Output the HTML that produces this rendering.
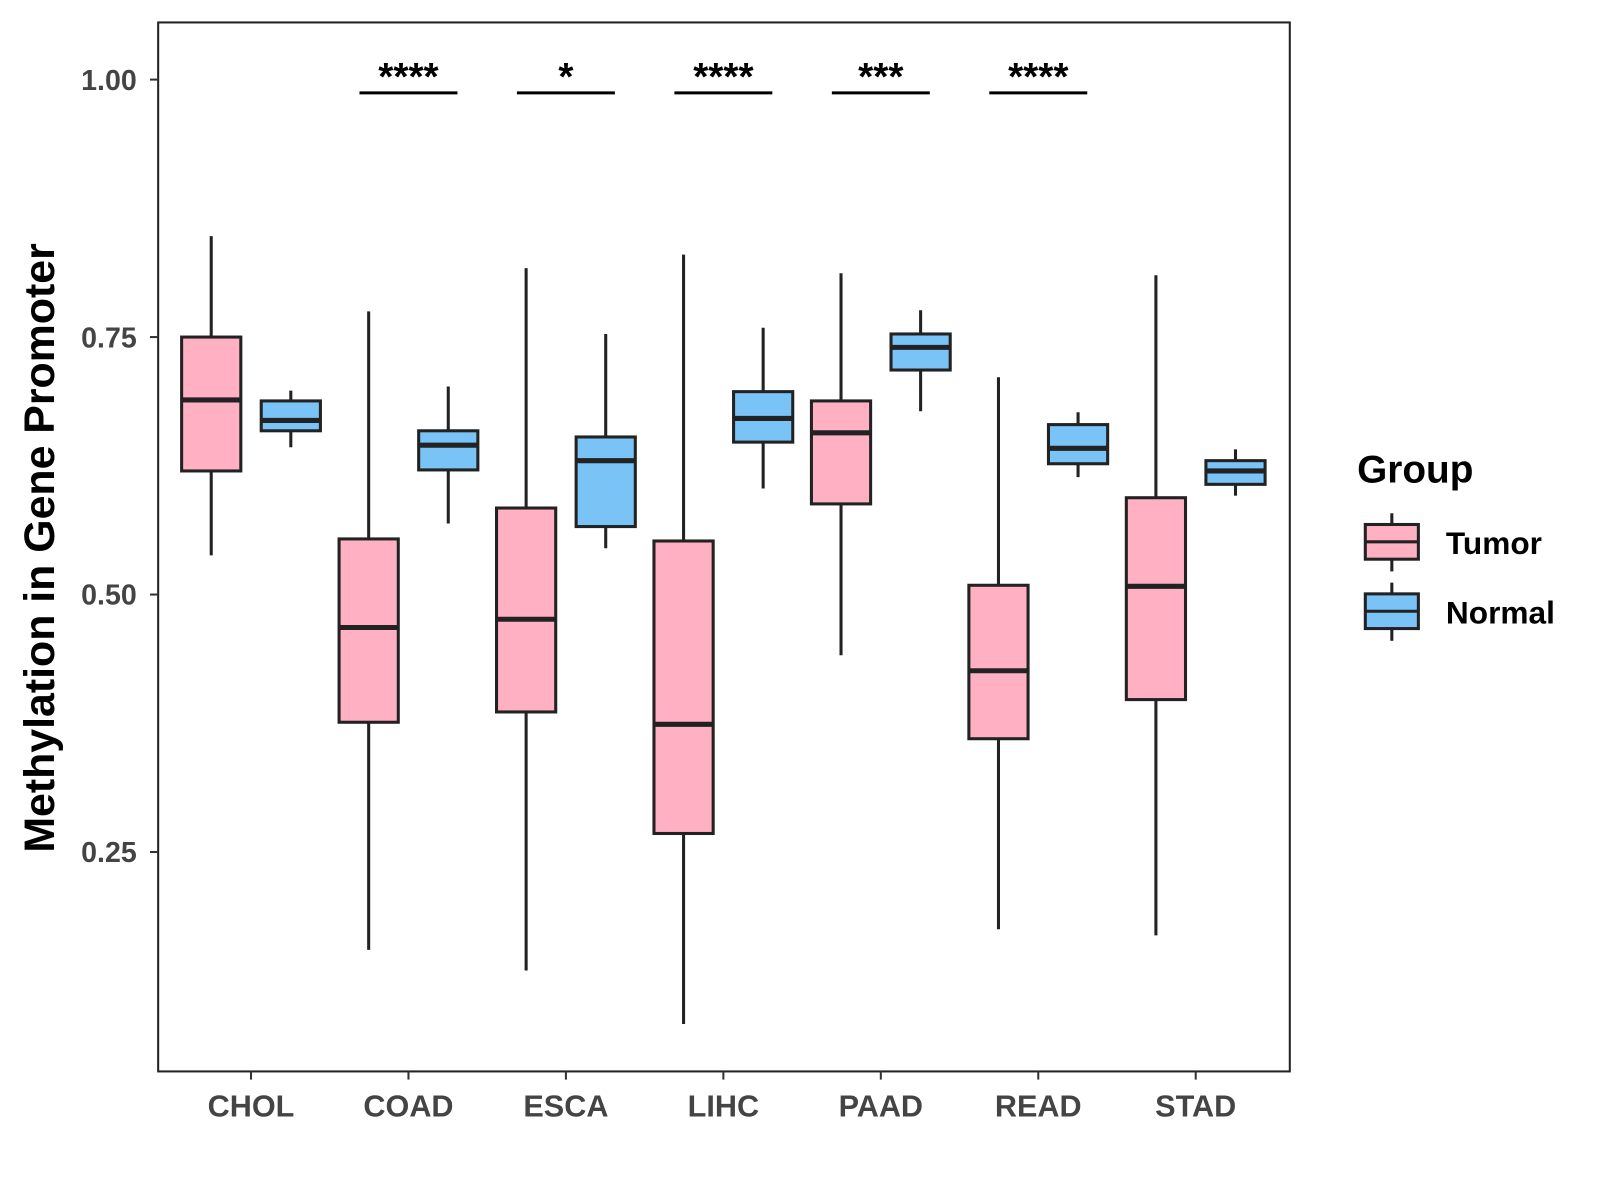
<!DOCTYPE html>
<html><head><meta charset="utf-8"><style>
html,body{margin:0;padding:0;background:#fff}
svg{display:block}
text{font-family:"Liberation Sans",Arial,sans-serif;font-weight:bold}
</style></head><body>
<svg id="chart" width="1600" height="1200" viewBox="0 0 1568 1176" xmlns="http://www.w3.org/2000/svg">
<rect x="155" y="22" width="1109" height="1028" fill="#fff" stroke="#222" stroke-width="2"/>
<g id="marks"></g>
<text transform="translate(53,537) rotate(-90)" text-anchor="middle" font-size="42" fill="#000">Methylation in Gene Promoter</text>
<g>
<text x="1330" y="473" font-size="38" fill="#000">Group</text>
<g>
<line x1="1364" y1="503" x2="1364" y2="560" stroke="#222" stroke-width="3"/>
<rect x="1338" y="514" width="52" height="34" fill="#FFB1C3" stroke="#222" stroke-width="3"/>
<line x1="1338" y1="531" x2="1390" y2="531" stroke="#222" stroke-width="3"/>
<text x="1417" y="543" font-size="31" fill="#000">Tumor</text></g>
<g>
<line x1="1364" y1="571" x2="1364" y2="628" stroke="#222" stroke-width="3"/>
<rect x="1338" y="582" width="52" height="34" fill="#7AC3F7" stroke="#222" stroke-width="3"/>
<line x1="1338" y1="599" x2="1390" y2="599" stroke="#222" stroke-width="3"/>
<text x="1417" y="611" font-size="31" fill="#000">Normal</text></g>
</g>
</svg>
<script>
const categories=["CHOL","COAD","ESCA","LIHC","PAAD","READ","STAD"];
// [whiskerLow, q1, median, q3, whiskerHigh]
const tumorStats=[[0.538,0.620,0.689,0.750,0.848],[0.155,0.376,0.468,0.554,0.775],[0.135,0.386,0.476,0.584,0.817],[0.083,0.268,0.374,0.552,0.830],[0.441,0.588,0.657,0.688,0.812],[0.175,0.360,0.426,0.509,0.711],[0.169,0.398,0.508,0.594,0.810]];
const normalStats=[[0.643,0.659,0.669,0.688,0.698],[0.569,0.621,0.645,0.659,0.702],[0.545,0.566,0.630,0.653,0.753],[0.603,0.648,0.671,0.697,0.759],[0.678,0.718,0.740,0.753,0.776],[0.614,0.627,0.642,0.665,0.677],[0.596,0.607,0.620,0.630,0.641]];
const yTicks=[0.25,0.50,0.75,1.00];
const yTickLabels=["0.25","0.50","0.75","1.00"];
const sigLabels=["","****","*","****","***","****",""];
const NS="http://www.w3.org/2000/svg";
const g=document.getElementById('marks');
function yS(v){return 78+(1-v)*1009.3;}
function xS(i){return 246+i*154.3;}
function mk(tag,attrs,parent){const e=document.createElementNS(NS,tag);for(const k in attrs)e.setAttribute(k,attrs[k]);(parent||g).appendChild(e);return e;}
yTicks.forEach((t,i)=>{
  const l=mk('line',{x1:147,x2:155,y1:yS(t),y2:yS(t),stroke:'#333','stroke-width':2});
  
  
  const tx=mk('text',{x:134,y:yS(t)+10,'text-anchor':'end','font-size':28,fill:'#444'});
  tx.textContent=yTickLabels[i];
  
  
});
function box(cx,s,fill,name){
  const grp=mk('g',{});
  
  
  mk('line',{x1:cx,x2:cx,y1:yS(s[0]),y2:yS(s[4]),stroke:'#222','stroke-width':3},grp);
  mk('rect',{x:cx-29,y:yS(s[3]),width:58,height:yS(s[1])-yS(s[3]),fill:fill,stroke:'#222','stroke-width':3},grp);
  mk('line',{x1:cx-29,x2:cx+29,y1:yS(s[2]),y2:yS(s[2]),stroke:'#222','stroke-width':5},grp);
}
categories.forEach((c,i)=>{
  const x=xS(i);
  box(x-39,tumorStats[i],'#FFB1C3','box-tumor-'+c.toLowerCase());
  box(x+39,normalStats[i],'#7AC3F7','box-normal-'+c.toLowerCase());
  const tk=mk('line',{x1:x,x2:x,y1:1050,y2:1058,stroke:'#333','stroke-width':2});
  
  
  const tl=mk('text',{x:x,y:1094,'text-anchor':'middle','font-size':30,fill:'#444'});
  tl.textContent=c;
  
  
  if(sigLabels[i]){
    const sl=mk('line',{x1:x-48,x2:x+48,y1:91,y2:91,stroke:'#000','stroke-width':3});
    
    
    const st=mk('text',{x:x,y:88,'text-anchor':'middle','font-size':38,fill:'#000'});
    st.textContent=sigLabels[i];
    
    
  }
});
</script>
</body></html>
